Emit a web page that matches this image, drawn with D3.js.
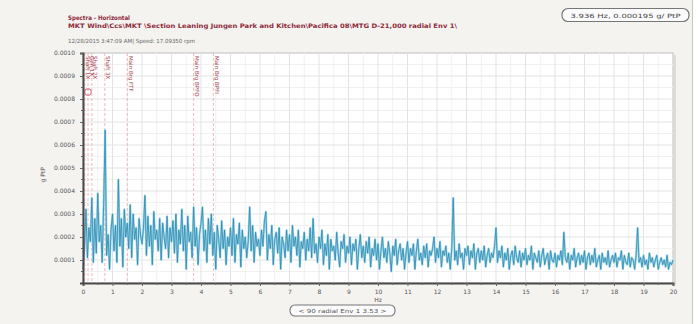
<!DOCTYPE html>
<html>
<head>
<meta charset="utf-8">
<script src="https://cdn.jsdelivr.net/npm/d3@7/dist/d3.min.js"></script>
<style>
  html, body { margin: 0; padding: 0; background: #ffffff; }
  svg { display: block; font-family: "DejaVu Sans", sans-serif; }
</style>
</head>
<body>
<svg id="chart" width="700" height="324"></svg>
<script>
// Spectrum amplitude, one value every 0.05 Hz from 0 to 20 Hz, in micro-g (1e-6 g)
const freqStep = 0.05;
const amplitudeMicroG = [
  60,150,320,110,240,180,370,90,280,130,390,180,250,90,340,665,120,210,60,230,
  300,140,250,90,450,160,280,70,320,200,260,150,340,110,300,190,240,80,280,210,
  170,240,380,120,290,160,250,80,310,190,230,140,280,100,260,200,150,290,110,240,
  180,270,130,300,90,230,170,320,140,250,60,290,180,220,110,330,160,240,80,210,
  260,330,140,230,90,280,170,300,120,220,60,250,190,110,270,150,230,80,200,160,
  240,120,280,90,210,170,260,70,230,150,200,110,180,330,140,250,90,220,160,190,
  120,230,160,270,310,100,210,150,250,80,190,220,130,240,60,200,170,110,230,140,
  210,90,250,160,200,120,230,70,180,150,220,100,190,140,240,110,280,130,170,90,
  200,150,230,80,170,120,210,60,190,140,160,100,220,130,70,180,150,210,90,160,
  130,200,80,170,140,190,60,150,210,110,160,90,180,130,200,70,150,120,190,100,
  170,60,140,200,110,150,90,180,130,50,160,120,190,80,140,170,100,150,60,130,
  180,90,150,120,170,60,140,190,100,130,80,160,110,170,70,140,120,150,200,90,
  150,110,180,70,140,120,160,90,130,60,150,370,100,140,80,170,110,130,60,150,
  120,160,80,140,110,170,60,130,150,90,140,100,160,70,120,150,90,130,110,160,
  240,90,140,110,160,70,130,100,150,60,120,140,80,160,110,90,140,70,130,100,
  150,80,120,100,160,60,130,110,90,140,70,120,150,80,110,130,60,140,100,90,
  130,70,120,100,140,80,220,110,90,130,60,120,100,150,70,110,130,80,120,90,
  140,60,110,130,80,120,90,150,70,100,120,60,130,90,110,80,140,70,100,120,
  90,130,70,110,100,140,60,120,90,80,130,70,110,100,60,120,240,90,110,70,
  120,80,100,60,130,90,110,70,100,120,60,90,110,80,100,70,120,60,90,80,
  100
];

// Fault-frequency markers (Hz) and their names
const markerFreqs  = [0.06, 0.17, 0.3, 0.74, 1.5, 3.75, 4.42];
const markerLabels = ["Shaft 1X", "Gen 1X", "Shaft 2X", "Shaft 3X", "Main Brg FTF", "Main Brg BPFO", "Main Brg BPFI"];

// Axis ticks
const xTicks = d3.range(0, 21);
const yTicks = [0.0001, 0.0002, 0.0003, 0.0004, 0.0005, 0.0006, 0.0007, 0.0008, 0.0009, 0.0010];

// Header texts
const titleText = "Spectra - Horizontal";
const pathText = "MKT Wind\\Ccs\\MKT \\Section Leaning Jungen Park and Kitchen\\Pacifica 08\\MTG D-21,000 radial Env 1\\";
const stampText = "12/28/2015 3:47:09 AM| Speed: 17.09350 rpm";
const cursorText = "3.936 Hz, 0.000195 g/ PtP";
const footerText = "< 90 radial Env 1 3.53 >";
const xLabel = "Hz";
const yLabel = "g PtP";

const svg = d3.select("#chart");

// outer panel
svg.append("rect").attr("x", 0).attr("y", 0).attr("width", 692).attr("height", 324).attr("fill", "#f4f3ef");
svg.append("line").attr("x1", 692.5).attr("x2", 692.5).attr("y1", 0).attr("y2", 324).attr("stroke", "#c9c7c2");

const x = d3.scaleLinear().domain([0, 20]).range([83, 673]);
const y = d3.scaleLinear().domain([0, 0.001]).range([283, 53]);

// plot background + frame shadow
svg.append("rect").attr("x", x(0)).attr("y", y(0.001)).attr("width", x(20) - x(0)).attr("height", y(0) - y(0.001))
  .attr("fill", "#ffffff").attr("stroke", "#bdbdbd").attr("stroke-width", 1);
svg.append("line").attr("x1", x(20) + 2).attr("x2", x(20) + 2).attr("y1", y(0.001) + 2).attr("y2", y(0) + 2)
  .attr("stroke", "#dddcd8").attr("stroke-width", 2);

// grid
const grid = svg.append("g");
grid.selectAll(".vminor").data(d3.range(0.5, 20, 1)).join("line")
  .attr("x1", d => x(d)).attr("x2", d => x(d)).attr("y1", y(0.001)).attr("y2", y(0))
  .attr("stroke", "#f1f1f1");
grid.selectAll(".hminor").data(d3.range(0.00005, 0.001, 0.0001)).join("line")
  .attr("x1", x(0)).attr("x2", x(20)).attr("y1", d => y(d)).attr("y2", d => y(d))
  .attr("stroke", "#f1f1f1");
grid.selectAll(".vmajor").data(xTicks.slice(1, 20)).join("line")
  .attr("x1", d => x(d)).attr("x2", d => x(d)).attr("y1", y(0.001)).attr("y2", y(0))
  .attr("stroke", "#e3e3e3");
grid.selectAll(".hmajor").data(yTicks.slice(0, 9)).join("line")
  .attr("x1", x(0)).attr("x2", x(20)).attr("y1", d => y(d)).attr("y2", d => y(d))
  .attr("stroke", "#e3e3e3");

// markers
const mk = svg.append("g");
mk.selectAll("line").data(markerFreqs).join("line")
  .attr("x1", d => x(d)).attr("x2", d => x(d)).attr("y1", y(0.001)).attr("y2", y(0))
  .attr("stroke", "#e7a9b1").attr("stroke-width", 0.8).attr("stroke-dasharray", "3,2");
mk.selectAll("text").data(markerFreqs).join("text")
  .attr("transform", (d, i) => `translate(${x(d) + 1.5},${y(0.001) + 3}) rotate(90)`)
  .attr("font-size", 5.5).attr("fill", "#a8404e")
  .text((d, i) => markerLabels[i]);
mk.append("circle").attr("cx", x(markerFreqs[1])).attr("cy", y(0.00083)).attr("r", 3.2)
  .attr("fill", "none").attr("stroke", "#e07f92").attr("stroke-width", 1.2);

// spectrum line
const series = amplitudeMicroG.map((v, i) => ({ f: i * freqStep, a: v / 1e6 }));
const line = d3.line().x(d => x(d.f)).y(d => y(d.a));
svg.append("path").datum(series).attr("d", line)
  .attr("fill", "none").attr("stroke", "#9fd8ea").attr("stroke-width", 2.2).attr("stroke-linejoin", "round");
svg.append("path").datum(series).attr("d", line)
  .attr("fill", "none").attr("stroke", "#2d86ad").attr("stroke-width", 0.8).attr("stroke-linejoin", "round");

// axes
const xAxis = d3.axisBottom(x).tickValues(xTicks).tickSize(3).tickFormat(d3.format("d"));
const gx = svg.append("g").attr("transform", `translate(0,${y(0)})`).call(xAxis);
const yAxis = d3.axisLeft(y).tickValues(yTicks).tickSize(3).tickFormat(d3.format(".4f"));
const gy = svg.append("g").attr("transform", `translate(${x(0)},0)`).call(yAxis);
[gx, gy].forEach(g => {
  g.select(".domain").attr("stroke", "#4a4a4a").attr("stroke-width", 2);
  g.selectAll(".tick line").attr("stroke", "#666");
  g.selectAll(".tick text").attr("font-size", 6).attr("fill", "#555").attr("font-family", "DejaVu Sans, sans-serif");
});
gx.selectAll(".tick text").attr("dy", "0.9em");
gy.selectAll(".tick text").attr("dx", "-2");
// minor ticks
svg.append("g").selectAll("line").data(d3.range(0.00005, 0.001, 0.0001)).join("line")
  .attr("x1", x(0) - 2).attr("x2", x(0)).attr("y1", d => y(d)).attr("y2", d => y(d)).attr("stroke", "#666");
svg.append("g").selectAll("line").data(d3.range(0.5, 20, 1)).join("line")
  .attr("y1", y(0)).attr("y2", y(0) + 2).attr("x1", d => x(d)).attr("x2", d => x(d)).attr("stroke", "#666");

// axis titles
svg.append("text").attr("x", x(10)).attr("y", 302).attr("text-anchor", "middle")
  .attr("font-size", 6).attr("fill", "#555").text(xLabel);
svg.append("text").attr("transform", `translate(45,${y(0.00047)}) rotate(-90)`).attr("text-anchor", "middle")
  .attr("font-size", 6).attr("fill", "#555").text(yLabel);

// header
svg.append("text").attr("x", 68).attr("y", 20).attr("font-size", 6.2).attr("font-weight", "bold")
  .attr("fill", "#8e2a3a").attr("textLength", 62).attr("lengthAdjust", "spacingAndGlyphs").text(titleText);
svg.append("text").attr("x", 68).attr("y", 28).attr("font-size", 6.2).attr("font-weight", "bold")
  .attr("fill", "#8e2a3a").attr("textLength", 389).attr("lengthAdjust", "spacingAndGlyphs").text(pathText);
svg.append("text").attr("x", 68).attr("y", 43).attr("font-size", 5.6)
  .attr("fill", "#666").attr("textLength", 127).attr("lengthAdjust", "spacingAndGlyphs").text(stampText);

// cursor readout box
svg.append("rect").attr("x", 562).attr("y", 8.5).attr("width", 127).attr("height", 13).attr("rx", 6)
  .attr("fill", "#fbfbfb").attr("stroke", "#777").attr("stroke-width", 1.2);
svg.append("text").attr("x", 625.5).attr("y", 17.5).attr("text-anchor", "middle").attr("font-size", 5.8)
  .attr("fill", "#444").attr("textLength", 110).attr("lengthAdjust", "spacingAndGlyphs").text(cursorText);

// footer box
svg.append("rect").attr("x", 290).attr("y", 305).attr("width", 105).attr("height", 11).attr("rx", 5)
  .attr("fill", "#fbfbfb").attr("stroke", "#777").attr("stroke-width", 1.1);
svg.append("text").attr("x", 342.5).attr("y", 312.5).attr("text-anchor", "middle").attr("font-size", 5.6)
  .attr("fill", "#555").attr("textLength", 88).attr("lengthAdjust", "spacingAndGlyphs").text(footerText);
</script>
</body>
</html>
